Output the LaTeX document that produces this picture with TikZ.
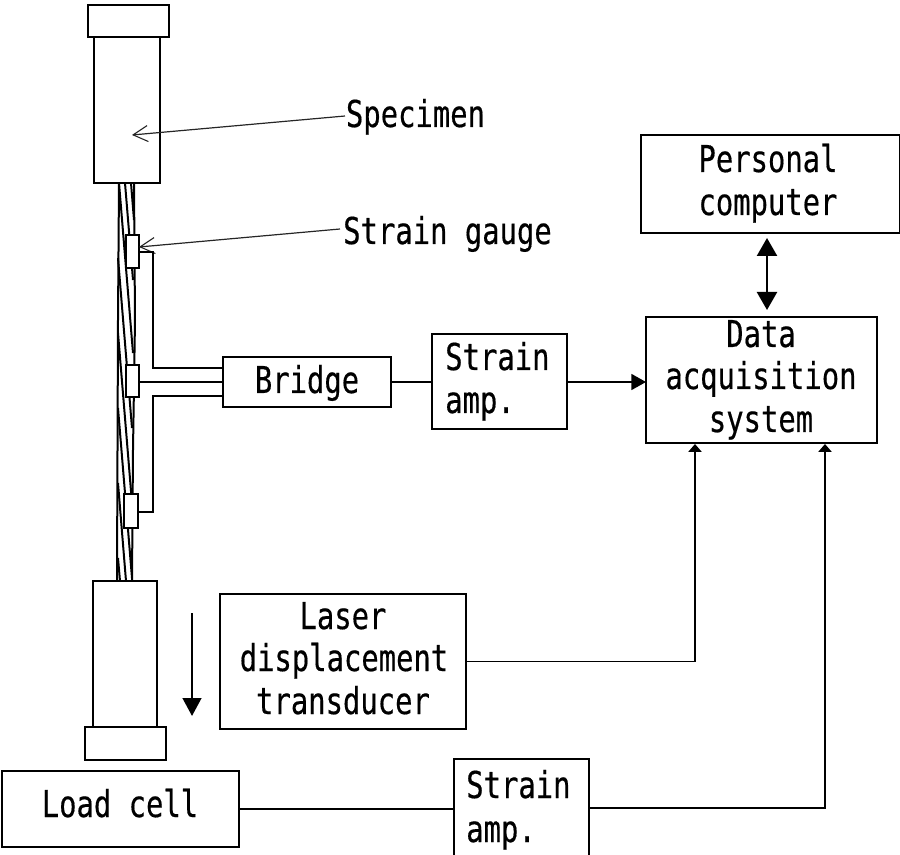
\documentclass[tikz,border=0pt]{standalone}
\usepackage{fontspec}
\setmainfont[FakeStretch=0.78,FakeBold=0.4]{DejaVu Sans Mono}
\usetikzlibrary{arrows.meta}
\newcommand{\bx}[5]{% name x1 y1 x2 y2
  \pgfmathsetmacro{\cxv}{(#2+#4)/2}\pgfmathsetmacro{\cyv}{(#3+#5)/2}
  \pgfmathsetmacro{\wv}{(#4-#2)*0.75}\pgfmathsetmacro{\hv}{(#5-#3)*0.75}
  \node[boxn,minimum width=\wv pt,minimum height=\hv pt] (#1) at (\cxv,\cyv) {};}
\tikzset{
  x=0.75pt,y=-0.75pt,
  boxn/.style={draw=black,fill=white,line width=1.5pt,inner sep=0pt,outer sep=0pt},
  lblc/.style={anchor=base,inner sep=0pt,font=\fontsize{27.75pt}{32pt}\selectfont},
  lbll/.style={anchor=base west,inner sep=0pt,font=\fontsize{27.75pt}{32pt}\selectfont},
  wire/.style={line width=1.4pt,draw=black},
  strand/.style={line width=1.5pt,draw=black},
  leader/.style={line width=0.9pt,draw=black!85,-{Straight Barb[length=11pt,width=12pt,line width=0.8pt]}},
  sig/.style={line width=1.3pt,draw=black},
  bigarrow/.style={line width=1.8pt,draw=black,-{Triangle[length=13.5pt,width=14pt]}},
  smallarrow/.style={line width=1.3pt,draw=black,-{Triangle[length=6pt,width=10pt]}},
  medarrow/.style={line width=1.3pt,draw=black,-{Triangle[length=11pt,width=12pt]}},
  duoarrow/.style={line width=1.8pt,draw=black,{Triangle[length=13.5pt,width=15pt]}-{Triangle[length=13.5pt,width=15pt]}},
}
\begin{document}
\begin{tikzpicture}
\useasboundingbox (0,0) rectangle (900,855);
% strands
\draw[strand] (119,183) -- (118,320) -- (117,581);
\draw[strand] (134,183) -- (135,320) -- (133,450) -- (132,581);
\draw[strand] (131,183) -- (134,220);
\draw[strand] (125,183) -- (133,280);
\draw[strand] (119,183) -- (133,353);
\draw[strand] (118,258) -- (132,428);
\draw[strand] (118,333) -- (132,503);
\draw[strand] (118,408) -- (132,578);
\draw[strand] (118,483) -- (126,581);
\draw[strand] (118,558) -- (120,581);
% specimen grips
\bx{topcap}{88}{5}{169}{37}
\bx{topbody}{94}{37}{160}{183}
\bx{lowbody}{93}{581}{157}{727}
\bx{lowcap}{85}{727}{166}{760}
% gauges
\bx{gaugea}{126}{235}{139}{268}
\bx{gaugeb}{126}{365}{139}{397}
\bx{gaugec}{124}{494}{138}{528}
% boxes
\bx{bridge}{223}{357}{391}{407}
\bx{ampa}{432}{334}{567}{429}
\bx{daq}{646}{317}{877}{443}
\bx{pc}{641}{135}{900}{233}
\bx{laser}{220}{594}{466}{729}
\bx{load}{2}{771}{239}{847}
% clipped amplifier box
\coordinate (ampbbl) at (454,855);
\coordinate (ampbtl) at (454,759);
\coordinate (ampbtr) at (589,759);
\coordinate (ampbbr) at (589,855);
\draw[line width=1.5pt] (ampbbl) -- (ampbtl) -- (ampbtr) -- (ampbbr);
% texts
\node[lblc] (tspec) at (415.5,127) {Specimen};
\node[lblc] (tgauge) at (447.5,244) {Strain gauge};
\node[lblc] (tpca) at (768,172) {Personal};
\node[lblc] (tpcb) at (768,215) {computer};
\node[lblc] (tda) at (761,347) {Data};
\node[lblc] (tdb) at (761,389) {acquisition};
\node[lblc] (tdc) at (761,432) {system};
\node[lblc] (tbr) at (307,393) {Bridge};
\node[lbll] (taa) at (445,370) {Strain};
\node[lbll] (tab) at (445,413) {amp.};
\node[lblc] (tla) at (343,629) {Laser};
\node[lblc] (tlb) at (344,671) {displacement};
\node[lblc] (tlc) at (343,714) {transducer};
\node[lblc] (tlo) at (120,817) {Load cell};
\node[lbll] (tba) at (466,798) {Strain};
\node[lbll] (tbb) at (466,842) {amp.};
% leaders
\coordinate (specend) at (345,116);
\coordinate (spectip) at (132,135);
\coordinate (gaugeend) at (340,229);
\coordinate (gaugetip) at (139,247);
\draw[leader] (specend) -- (spectip);
\draw[leader] (gaugeend) -- (gaugetip);
% bridge wiring
\coordinate (wa) at (153,252);
\coordinate (wb) at (153,368);
\coordinate (wc) at (153,396);
\coordinate (wd) at (153,512);
\draw[wire] (gaugea.east |- wa) -- (wa) -- (wb) -- (bridge.west |- wb);
\draw[wire] (gaugeb.east |- bridge.west) -- (bridge.west);
\draw[wire] (gaugec.east |- wd) -- (wd) -- (wc) -- (bridge.west |- wc);
% signal lines
\draw[sig] (bridge.east) -- (ampa.west |- bridge.east);
\draw[medarrow] (ampa.east |- bridge.east) -- (daq.west |- bridge.east);
\coordinate (dua) at (767,238);
\coordinate (dub) at (767,310);
\draw[duoarrow] (dua) -- (dub);
\coordinate (da) at (695,444);
\coordinate (db) at (825,444);
\coordinate (ampbw) at (454,808);
\coordinate (ampbe) at (589,808);
\draw[smallarrow] (laser.east) -| (da);
\draw[sig] (load.east) -- (load.east -| ampbw);
\draw[smallarrow] (ampbe) -| (db);
% motion arrow
\coordinate (ma) at (192,613);
\coordinate (mb) at (192,716);
\draw[bigarrow] (ma) -- (mb);
\end{tikzpicture}
\end{document}
